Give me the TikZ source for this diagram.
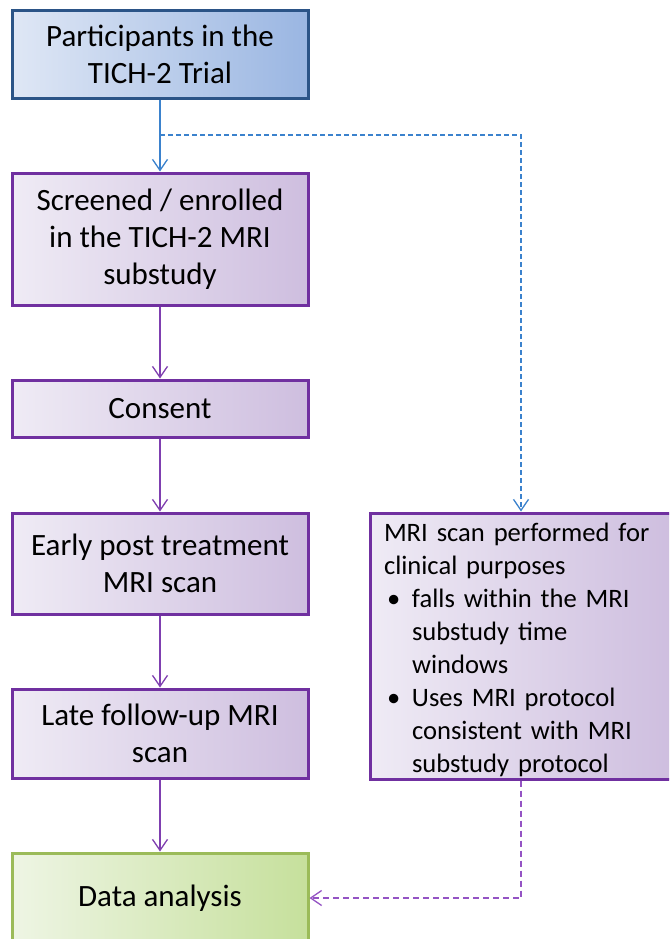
\documentclass[tikz,border=0pt]{standalone}
\usepackage{fontspec}
\setmainfont{Carlito}
\usetikzlibrary{arrows.meta}
\definecolor{bluebd}{HTML}{2B5487}
\definecolor{bluel}{HTML}{DFE7F5}
\definecolor{bluer}{HTML}{9AB6E2}
\definecolor{purpbd}{HTML}{7030A0}
\definecolor{purpl}{HTML}{EFEBF5}
\definecolor{purpr}{HTML}{CEBEDF}
\definecolor{greenbd}{HTML}{9BBB59}
\definecolor{greenl}{HTML}{EEF5E4}
\definecolor{greenr}{HTML}{C6E09C}
\definecolor{bluearr}{HTML}{3B82CD}
\definecolor{purparr}{HTML}{7F3FB0}
\definecolor{purpdash}{HTML}{9453C4}
\tikzset{
  box/.style={rectangle, line width=3pt, minimum width=296pt, align=center,
    inner sep=0pt, font=\fontsize{31}{37}\selectfont},
  bluebox/.style={box, draw=bluebd, left color=bluel, right color=bluer},
  purpbox/.style={box, draw=purpbd, left color=purpl, right color=purpr},
  greenbox/.style={box, draw=greenbd, left color=greenl, right color=greenr},
  tip/.style={-{Straight Barb[length=11pt,width=15pt,line width=1.3pt]}},
  bluearrow/.style={tip, draw=bluearr, line width=1.4pt},
  purparrow/.style={tip, draw=purparr, line width=1.4pt},
  bluedashed/.style={tip, draw=bluearr, line width=1.4pt, dashed, dash pattern=on 5pt off 3pt},
  purpdashed/.style={tip, draw=purpdash, line width=1.4pt, dashed, dash pattern=on 6pt off 4pt},
}
\begin{document}
\begin{tikzpicture}[x=1pt,y=1pt]
\useasboundingbox (0,0) rectangle (669,-939);
\clip (0,0) rectangle (669,-939);
\fill[white] (0,0) rectangle (669,-939);
\node[bluebox, minimum height=88pt] (p) at (160,-54.5) {Participants in the\\TICH-2 Trial};
\node[purpbox, minimum height=132pt] (s) at (160,-239) {Screened / enrolled\\in the TICH-2 MRI\\substudy};
\node[purpbox, minimum height=57pt] (c) at (160,-408.5) {Consent};
\node[purpbox, minimum height=101pt] (e) at (160,-563.5) {Early post treatment\\MRI scan};
\node[purpbox, minimum height=89pt] (l) at (160,-733.5) {Late follow-up MRI\\scan};
\node[greenbox, minimum height=90pt] (d) at (160,-898) {Data analysis};
\node[purpbox, minimum width=302pt, minimum height=266pt, text width=274pt,
  align=left, inner xsep=14pt, font=\fontsize{26.6}{33}\selectfont] (r) at (521,-646)
  {\rule{0pt}{27pt}MRI scan performed for\\clinical purposes\\
   \makebox[28pt][l]{\hspace*{3pt}\textbullet}falls within the MRI\\
   \hspace*{28pt}substudy time\\
   \hspace*{28pt}windows\\
   \makebox[28pt][l]{\hspace*{3pt}\textbullet}Uses MRI protocol\\
   \hspace*{28pt}consistent with MRI\\
   \hspace*{28pt}substudy protocol};
\coordinate (j) at (160,-135);
\draw[bluearrow] (p.south) -- (s.north);
\draw[bluedashed] (j) -| (r.north);
\draw[purparrow] (s.south) -- (c.north);
\draw[purparrow] (c.south) -- (e.north);
\draw[purparrow] (e.south) -- (l.north);
\draw[purparrow] (l.south) -- (d.north);
\draw[purpdashed] (r.south) |- (d.east);
\end{tikzpicture}
\end{document}
